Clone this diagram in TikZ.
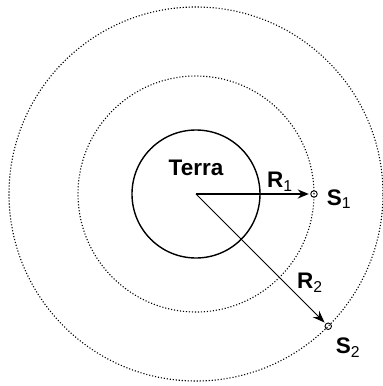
\documentclass[tikz,border=0pt]{standalone}
\usepackage{fontspec}
\setmainfont{Liberation Sans}
\usetikzlibrary{arrows.meta}
\newcommand{\lowidx}[1]{\textsubscript{\mdseries #1}}

\begin{document}
\begin{tikzpicture}[x=1pt, y=1pt,
  every node/.style={font=\fontsize{22.5}{24}\selectfont\bfseries, inner sep=0pt},
  orbit/.style={line width=1.1pt, dash pattern=on 1.1pt off 1.9pt},
  sat/.style={circle, draw, line width=0.9pt, minimum size=6.5pt, inner sep=0pt}]
\useasboundingbox (-196,194) rectangle (187,-192);
\coordinate (O) at (0,0);
% orbits and the earth
\draw[orbit] (O) circle (118);
\draw[orbit] (O) circle (187);
\draw[line width=1.4pt] (O) circle (64);
\node (terra) at (0,26) {Terra};
% satellites
\node[sat] (s1) at (118,0) {};
\node[sat] (s2) at (-45:187) {};
\draw[line width=2pt, -{Stealth[length=11pt, width=9pt]}, shorten >=1.5pt] (O) -- (s1);
\draw[line width=1pt, -{Stealth[length=12pt, width=9pt]}, shorten >=1.5pt] (O) -- (s2);
\node (r1) at (84,12) {R\lowidx{1}};
\node (r2) at (114,-89) {R\lowidx{2}};
\node (s1lbl) at (143,-5) {S\lowidx{1}};
\node (s2lbl) at (152,-154) {S\lowidx{2}};
\end{tikzpicture}
\end{document}
